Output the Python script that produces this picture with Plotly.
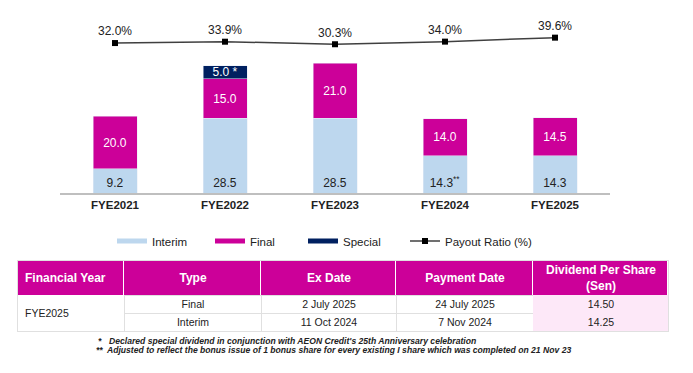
import plotly.graph_objects as go

years = ["FYE2021", "FYE2022", "FYE2023", "FYE2024", "FYE2025"]
interim = [9.2, 28.5, 28.5, 14.3, 14.3]
interim_labels = ["9.2", "28.5", "28.5", "14.3<sup>**</sup>", "14.3"]
final = [20.0, 15.0, 21.0, 14.0, 14.5]
final_labels = ["20.0", "15.0", "21.0", "14.0", "14.5"]
special = [None, 5.0, None, None, None]
special_labels = ["", "5.0 *", "", "", ""]
payout = [32.0, 33.9, 30.3, 34.0, 39.6]
payout_labels = ["32.0%", "33.9%", "30.3%", "34.0%", "39.6%"]

tbl_header = ["Financial Year", "Type", "Ex Date", "Payment Date", "Dividend Per Share<br>(Sen)"]
tbl_year = ["FYE2025"]
tbl_type = ["Final", "Interim"]
tbl_ex = ["2 July 2025", "11 Oct 2024"]
tbl_pay = ["24 July 2025", "7 Nov 2024"]
tbl_dps = ["14.50", "14.25"]

foot_marks = ["*", "**"]
foot_texts = [
    "Declared special dividend in conjunction with AEON Credit's 25th Anniversary celebration",
    "Adjusted to reflect the bonus issue of 1 bonus share for every existing I share which was completed on 21 Nov 23",
]

C_INT = "#BDD7EE"
C_FIN = "#CC0099"
C_SPE = "#002060"
C_PINK = "#FDE8F8"
C_GRID = "#E0E0E0"
FONT = "Liberation Sans, Arial, sans-serif"
W, H = 693, 373

fig = go.Figure()
fig.add_trace(go.Bar(x=years, y=interim, name="Interim", marker_color=C_INT,
                     text=interim_labels, textposition="inside", insidetextanchor="start",
                     textfont=dict(color="#222222", size=12), showlegend=False,
                     textangle=0, hoverinfo="skip"))
fig.add_trace(go.Bar(x=years, y=final, name="Final", marker_color=C_FIN,
                     text=final_labels, textposition="inside", insidetextanchor="middle",
                     textfont=dict(color="white", size=12), showlegend=False,
                     textangle=0, hoverinfo="skip"))
fig.add_trace(go.Bar(x=years, y=special, name="Special", marker_color=C_SPE,
                     text=special_labels, textposition="inside", insidetextanchor="middle",
                     textfont=dict(color="white", size=12), showlegend=False,
                     textangle=0, hoverinfo="skip"))
# legend entries
for nm, col, lw in [("Interim", C_INT, 53), ("Final", C_FIN, 48), ("Special", C_SPE, 57)]:
    fig.add_trace(go.Scatter(x=[None], y=[None], mode="lines", name=nm,
                             line=dict(color=col, width=5), legendwidth=lw))
fig.add_trace(go.Scatter(x=years, y=payout, name="Payout Ratio (%)", yaxis="y2",
                         mode="lines+markers+text", text=payout_labels,
                         textposition="top center", legendwidth=100,
                         textfont=dict(color="#222222", size=12),
                         line=dict(color="#404040", width=1.5),
                         marker=dict(symbol="square", size=6, color="black")))

# ---- table drawn as heatmaps on its own axes ----
col_edges = [0, 106, 243, 378, 515, 650]
fig.add_trace(go.Heatmap(
    x=col_edges, y=[0, 34], z=[[1, 1, 1, 1, 1]],
    colorscale=[[0, C_FIN], [1, C_FIN]], showscale=False, xgap=1,
    text=[[""] + tbl_header[1:]], texttemplate="<b>%{text}</b>",
    textfont=dict(color="white", size=12, family=FONT),
    hoverinfo="skip", xaxis="x3", yaxis="y3"))
body_text = [["", tbl_type[i], tbl_ex[i], tbl_pay[i], tbl_dps[i]] for i in range(len(tbl_type))]
body_z = [[0, 1, 1, 1, 2] for _ in range(len(tbl_type))]
fig.add_trace(go.Heatmap(
    x=col_edges, y=[34, 52, 70], z=body_z, zmin=0, zmax=2,
    colorscale=[[0, "white"], [0.5, "rgba(255,255,255,0)"], [1, C_PINK]], showscale=False,
    text=body_text, texttemplate="%{text}",
    textfont=dict(color="#222222", size=10.5, family=FONT),
    hoverinfo="skip", xaxis="x3", yaxis="y3"))

annotations = [
    dict(text="<b>" + tbl_header[0] + "</b>", x=5, y=17, xref="x3", yref="y3",
         xanchor="left", yanchor="middle", showarrow=False,
         font=dict(size=12, color="white", family=FONT)),
    dict(text=tbl_year[0], x=5, y=52, xref="x3", yref="y3",
         xanchor="left", yanchor="middle", showarrow=False,
         font=dict(size=10.5, color="#222222", family=FONT)),
]
mark_x = [96, 94]
text_x = [107, 104]
for i, (m, t) in enumerate(zip(foot_marks, foot_texts)):
    yy = 1 - (340.5 + 9.5 * i) / H
    annotations.append(dict(text="<b><i>" + m + "</i></b>", x=mark_x[i] / W, y=yy,
                            xref="paper", yref="paper", xanchor="left", yanchor="middle",
                            showarrow=False, font=dict(size=8.6, color="#222222", family=FONT)))
    annotations.append(dict(text="<b><i>" + t + "</i></b>", x=text_x[i] / W, y=yy,
                            xref="paper", yref="paper", xanchor="left", yanchor="middle",
                            showarrow=False, font=dict(size=8.6, color="#222222", family=FONT)))

fig.update_layout(
    width=W, height=H, margin=dict(l=0, r=0, t=0, b=0),
    paper_bgcolor="white", plot_bgcolor="white",
    barmode="stack", bargap=0.6,
    font=dict(family=FONT, color="#222222"),
    uniformtext=dict(minsize=11, mode="show"),
    xaxis=dict(domain=[60 / W, 610 / W], showline=True, linecolor="#BFBFBF", linewidth=2,
               ticks="", tickfont=dict(size=11.5, color="#222222", weight="bold"),
               showgrid=False, fixedrange=True),
    yaxis=dict(domain=[1 - 193 / H, 1 - 15 / H], range=[0, 67.9], visible=False,
               showgrid=False, zeroline=False),
    yaxis2=dict(overlaying="y", range=[-179.2, 71.5], visible=False, showgrid=False,
                zeroline=False),
    xaxis3=dict(domain=[18 / W, 668 / W], anchor="y3", range=[0, 650],
                tickvals=col_edges, showticklabels=False, ticks="", showgrid=True,
                gridcolor=C_GRID, gridwidth=1, zeroline=False, showline=True, mirror=True,
                linecolor=C_GRID, linewidth=1, layer="below traces", fixedrange=True),
    yaxis3=dict(domain=[1 - 331 / H, 1 - 261 / H], anchor="x3", range=[70, 0],
                tickvals=[34, 52, 70], showticklabels=False, ticks="", showgrid=True,
                gridcolor=C_GRID, gridwidth=1, zeroline=False, showline=True, mirror=True,
                linecolor=C_GRID, linewidth=1, layer="below traces", fixedrange=True),
    legend=dict(orientation="h", x=112 / W, xanchor="left", y=1 - 241 / H, yanchor="middle",
                traceorder="normal",
                font=dict(size=11.5, color="#222222"), bgcolor="rgba(0,0,0,0)"),
    annotations=annotations,
)

fig.write_html("out.html", config={"displayModeBar": False},
               post_script="document.body.style.margin='0px';")
